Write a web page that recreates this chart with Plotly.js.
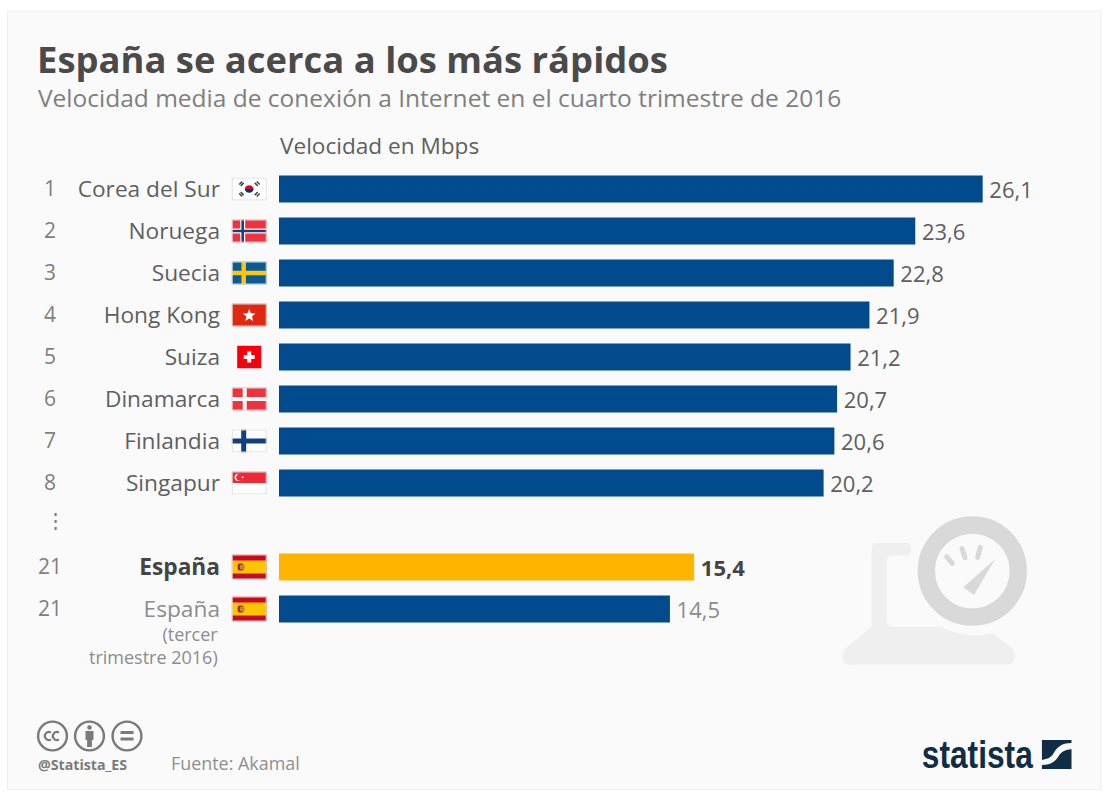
<!DOCTYPE html>
<html><head><meta charset="utf-8">
<script src="https://cdn.plot.ly/plotly-3.0.1.min.js"></script>
<style>html,body{margin:0;padding:0;background:#fff;overflow:hidden}#c{width:1110px;height:801px}</style>
</head><body><div id="c"></div>
<script>
// ---- data ----
const ranks = ['1','2','3','4','5','6','7','8','⋮','21','21'];
const countries = ['Corea del Sur','Noruega','Suecia','Hong Kong','Suiza','Dinamarca','Finlandia','Singapur','','<b>España</b>','España'];
const values = [26.1,23.6,22.8,21.9,21.2,20.7,20.6,20.2,null,15.4,14.5];
const flagKeys = ['kr','no','se','hk','ch','dk','fi','sg',null,'es','es'];
const noteLines = ['(tercer','trimestre 2016)'];

// ---- styles ----
const BLUE='#004a8d', GOLD='#ffb400', TXT='#5f5f5f', DARK='#444444', LIGHT='#8c8c8c';
const barColors = values.map((v,i)=> i===9 ? GOLD : BLUE);
const labelColors = values.map((v,i)=> i===9 ? DARK : (i===10 ? LIGHT : TXT));
const FONT='"Open Sans", sans-serif';

// ---- pixel helpers for decoration ----
const M={l:279,r:20,t:168,b:171};
const W=1110-M.l-M.r, H=801-M.t-M.b;
const xp=p=>(p-M.l)/W, yp=p=>1-(p-M.t)/H;
const uri=s=>'data:image/svg+xml;charset=utf-8,'+encodeURIComponent(s);
const svg=(w,h,vb,body)=>uri(`<svg xmlns="http://www.w3.org/2000/svg" width="${w}" height="${h}" viewBox="${vb}" preserveAspectRatio="none">${body}</svg>`);
const img=(src,x,y,w,h)=>({source:src,xref:'paper',yref:'paper',x:xp(x),y:yp(y),sizex:w/W,sizey:h/H,sizing:'stretch',xanchor:'left',yanchor:'top',layer:'above'});

const flagBody={
 kr:`<rect width="35" height="23" fill="#fff"/><path d="M13 11.5a4.6 4.6 0 0 1 9 0z" fill="#c8102e"/><path d="M13 11.5a4.6 4.6 0 0 0 9 0z" fill="#003478"/><g stroke="#444" stroke-width="1.5"><path d="M7.5 7l3-3M9 8.4l3-3M23 5.4l3 3M25 4l3 3M7.5 16l3 3M9 14.6l3 3M23 17.6l3-3M25 19l3-3"/></g>`,
 no:`<rect width="35" height="23" fill="#f0323f"/><path d="M11 0v23M0 11.5h35" stroke="#fff" stroke-width="5"/><path d="M11 0v23M0 11.5h35" stroke="#1d3f78" stroke-width="2.6"/>`,
 se:`<rect width="35" height="23" fill="#0a5a96"/><path d="M12 0v23M0 11.5h35" stroke="#fdc80c" stroke-width="4.5"/>`,
 hk:`<rect width="35" height="23" fill="#de2910"/><path d="M17.5 5.5L19.2 9.8L23.8 10.1L20.3 13L21.4 17.5L17.5 15L13.6 17.5L14.7 13L11.2 10.1L15.8 9.8Z" fill="#fff"/>`,
 ch:`<rect width="35" height="23" fill="#fafafa"/><rect x="5.5" width="24" height="23" fill="#f4000f"/><path d="M17.5 6v11M12 11.5h11" stroke="#fff" stroke-width="4"/>`,
 dk:`<rect width="35" height="23" fill="#f0323f"/><path d="M13 0v23M0 11.5h35" stroke="#fff" stroke-width="4"/>`,
 fi:`<rect width="35" height="23" fill="#fff"/><path d="M12 0v23M0 11.5h35" stroke="#123f80" stroke-width="5"/>`,
 sg:`<rect width="35" height="23" fill="#fff"/><rect width="35" height="11.5" fill="#ed2939"/><circle cx="6.5" cy="5.8" r="3.6" fill="#fff"/><circle cx="8" cy="5.8" r="3.4" fill="#ed2939"/><circle cx="11" cy="5.8" r="1" fill="#fff"/>`,
 es:`<rect width="35" height="25" fill="#c60b1e"/><rect y="6" width="35" height="13" fill="#ffc400"/><rect x="6" y="9" width="6" height="7" rx="2" fill="#ad1519"/><rect x="8" y="10" width="5" height="5" rx="1.5" fill="#b98a3a"/>`
};
function flagImage(k,i){
  const h=k==='es'?25:23;
  const body=flagBody[k]+`<rect x=".5" y=".5" width="34" height="${h-1}" fill="none" stroke="#ddd" stroke-width="1" ${k==='ch'?'opacity="0"':''}/>`;
  return {source:svg(35,h,`0 0 35 ${h}`,body),xref:'paper',yref:'y',x:xp(231.7),y:i,sizex:35/W,sizey:h/42,sizing:'stretch',xanchor:'left',yanchor:'middle',layer:'above'};
}

const watermark=svg(290,300,'0 0 870 900',`
<path d="M170 128H258Q274 128 274 147Q274 166 258 166H218Q200 166 200 184V362Q200 380 218 380H360Q440 418 518 400L572 442Q585 452 584 472Q582 494 560 494H90Q68 494 68 470Q68 452 80 442L155 380V145Q155 128 170 128Z" fill="#efefef"/>
<circle cx="457" cy="213" r="138" fill="#fafafa" stroke="#d9d9d9" stroke-width="52"/>
<path d="M525 178L430 262L462 285Z" fill="#d9d9d9"/>
<path d="M380 170L397 190M426 146L435 173M481 142L473 172" stroke="#d9d9d9" stroke-width="15" stroke-linecap="round"/>`);

const cc=svg(110,34,'0 0 110 34',`
<g fill="none" stroke="#7a7a7a" stroke-width="2.4"><circle cx="17" cy="17" r="14.4"/><circle cx="54" cy="17" r="14.4"/><circle cx="91.5" cy="17" r="14.4"/></g>
<path d="M15.5 13.6a4 4 0 1 0 0 6.8M23.5 13.6a4 4 0 1 0 0 6.8" fill="none" stroke="#7a7a7a" stroke-width="2.2"/>
<circle cx="54" cy="8.5" r="2.3" fill="#7a7a7a"/><path d="M50 12h8v9h-1.6v7h-4.8v-7H50z" fill="#7a7a7a"/>
<path d="M85 13.5h13M85 20h13" stroke="#7a7a7a" stroke-width="2.8"/>`);

const logo=svg(30,29,'0 0 30 29',`
<path d="M0 0H30L30 3C19 3 15 8 12 13C10 17 6 19 0 20Z" fill="#0f2d45"/>
<path d="M30 9V29H0V25C10 25 14 21 17 16C20 11 24 10 30 9Z" fill="#0f2d45"/>`);

// ---- trace ----
const rows=values.map((v,i)=>i);
const trace={type:'bar',orientation:'h',y:rows,x:values,width:0.643,
  marker:{color:barColors,line:{width:0}},
  text:values.map((v,i)=>v==null?'':'\u2009'+(i===9?'<b>':'')+v.toFixed(1).replace('.',',')+(i===9?'</b>':'')),
  textposition:'outside',cliponaxis:false,constraintext:'none',
  textfont:{family:FONT,size:22,color:labelColors},hoverinfo:'skip'};

// ---- annotations ----
const ann=(text,x,y,size,color,anchor,extra)=>Object.assign({text,xref:'paper',yref:'paper',x:xp(x),y:yp(y),showarrow:false,xanchor:anchor||'left',yanchor:'middle',font:{family:FONT,size,color}},extra||{});
const annotations=[
  ann('Velocidad media de conexión a Internet en el cuarto trimestre de 2016',35.5,98,24.5,'#7f7f7f'),
  ann('Velocidad en Mbps',278,146,22.6,TXT),
  ann(noteLines.join('<br>'),220,645.5,18,LIGHT,'right',{align:'right'}),
  ann('@Statista_ES',36,764,14.2,'#7a7a7a','left',{font:{family:FONT,size:14.2,color:'#7a7a7a',weight:700}}),
  ann('Fuente: Akamal',169,763,17.9,'#8f8f8f'),
  ann('statista',977.5,754,39,'#0f2d45','center',{font:{family:'"Liberation Sans", sans-serif',size:39,color:'#0f2d45',weight:700}})
];
ranks.forEach((r,i)=>annotations.push({text:r,xref:'paper',yref:'y',x:xp(i===8?55:49.5),y:i,yshift:i===8?5:1,showarrow:false,xanchor:'center',yanchor:'middle',font:{family:FONT,size:21,color:'#7f7f7f'}}));

const images=[img(watermark,820,500,290,300),img(cc,35.5,719,110,34),img(logo,1041.7,740,30,29)];
flagKeys.forEach((k,i)=>{if(k)images.push(flagImage(k,i));});

const layout={
  width:1110,height:801,margin:M,autosize:false,showlegend:false,
  paper_bgcolor:'#ffffff',plot_bgcolor:'rgba(0,0,0,0)',
  font:{family:FONT},bargap:0.357,
  title:{text:'<b>España se acerca a los más rápidos</b>',x:37/1110,xanchor:'left',y:1-60/801,yanchor:'middle',xref:'container',yref:'container',font:{family:FONT,size:36.4,color:'#4a4a4a'}},
  xaxis:{range:[0,W/26.96],visible:false,fixedrange:true},
  yaxis:{range:[10.5,-0.5],tickmode:'array',tickvals:rows,
    ticktext:countries.map((c,i)=>`<span style="fill:${labelColors[i]}">${c}</span>`),
    ticklabelstandoff:58,ticks:'',showgrid:false,zeroline:false,showline:false,fixedrange:true,automargin:false,
    tickfont:{family:FONT,size:22.7,color:TXT}},
  shapes:[{type:'rect',xref:'paper',yref:'paper',x0:xp(7.5),x1:xp(1101),y0:yp(11),y1:yp(789.5),fillcolor:'#fafafa',line:{color:'#eeeeee',width:1},layer:'below'}],
  annotations,images
};
Plotly.newPlot('c',[trace],layout,{displayModeBar:false,staticPlot:true}).then(gd=>{
  // the Statista wordmark is a condensed face: keep it as text and narrow its glyphs
  gd.querySelectorAll('.annotation-text').forEach(t=>{
    if(t.textContent==='statista'){t.setAttribute('textLength','111');t.setAttribute('lengthAdjust','spacingAndGlyphs');}
  });
});
</script></body></html>
